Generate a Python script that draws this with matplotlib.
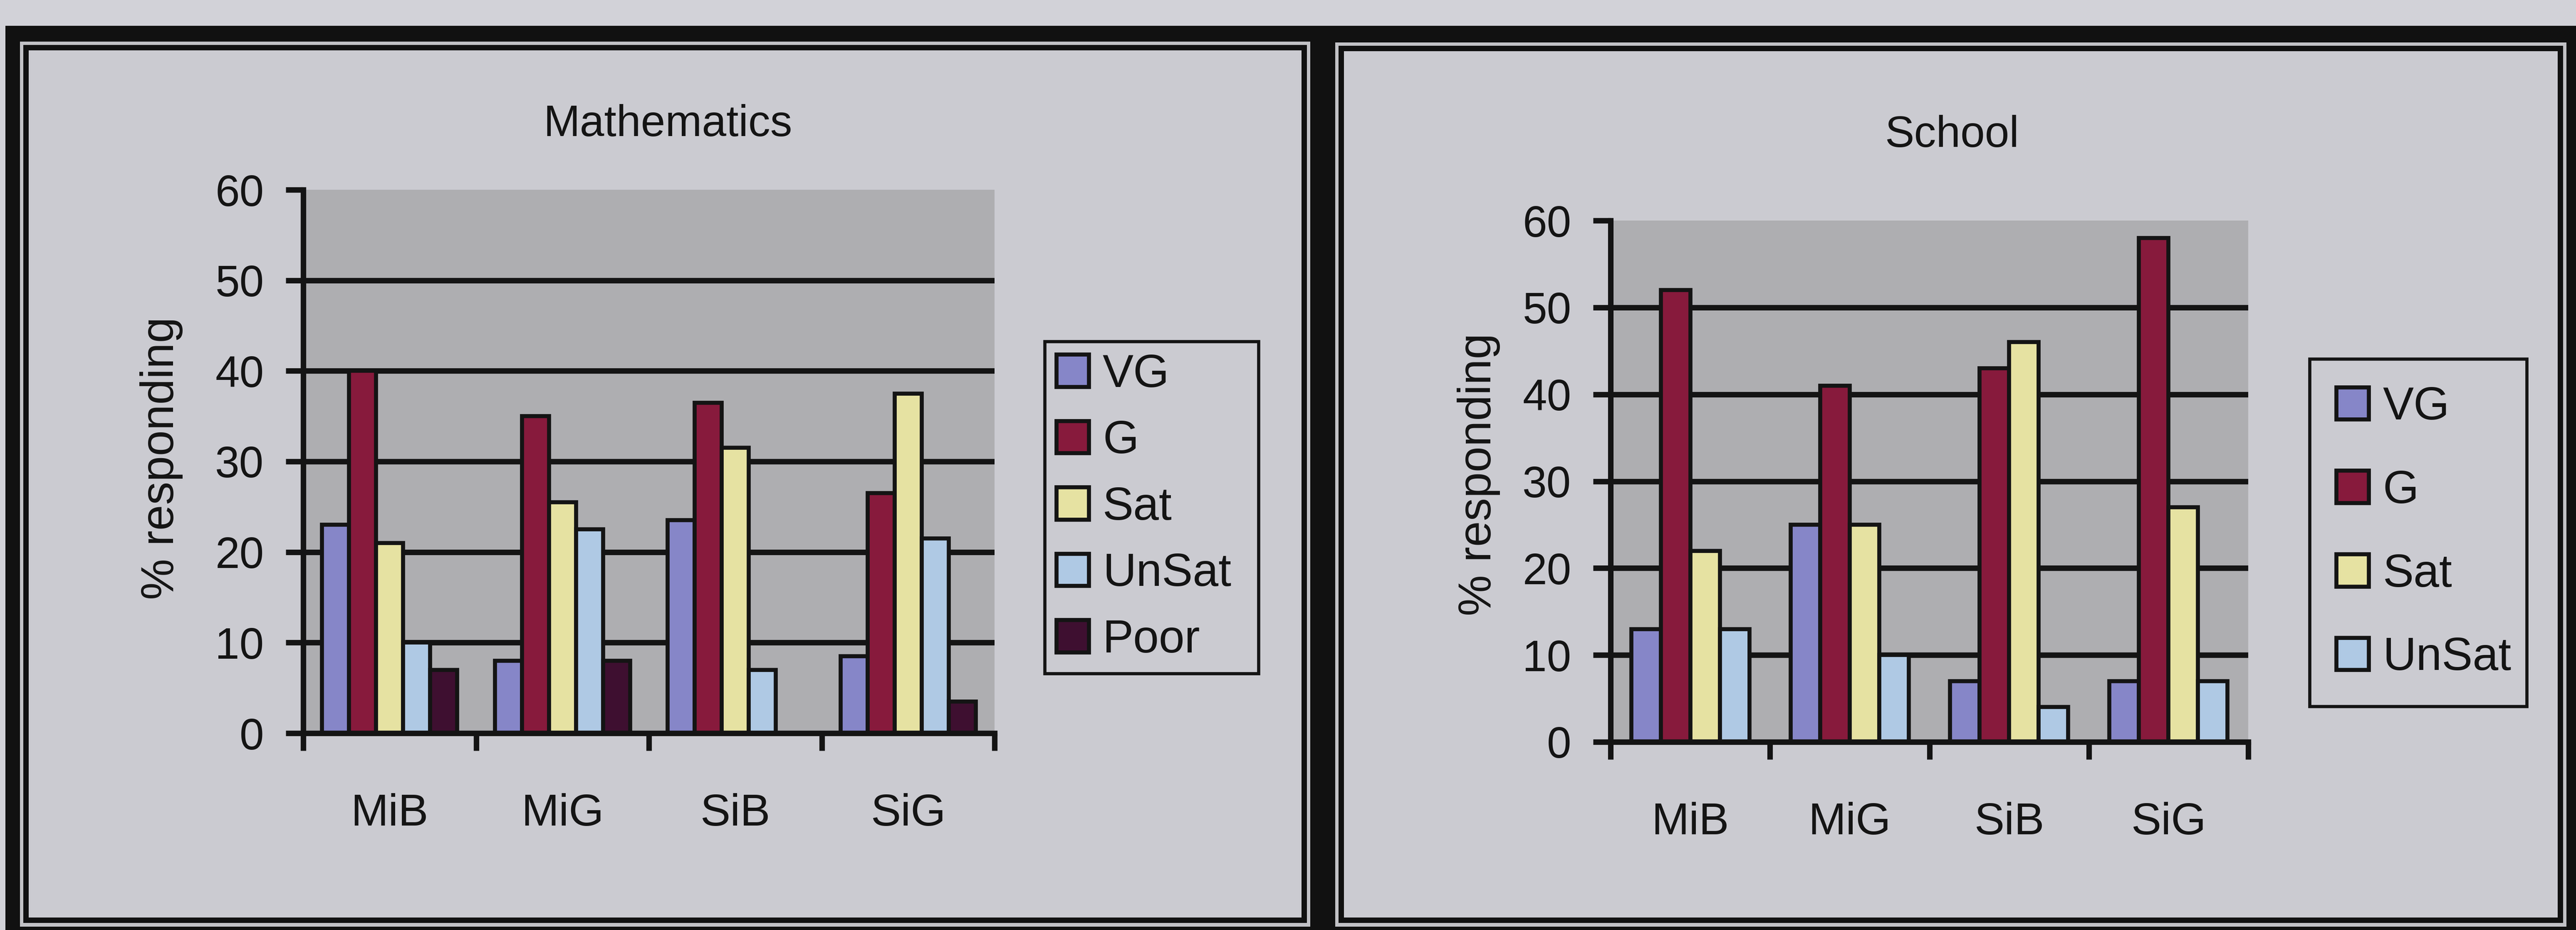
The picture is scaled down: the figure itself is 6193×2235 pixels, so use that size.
import numpy as np
import matplotlib
matplotlib.use("Agg")
import matplotlib.pyplot as plt
from matplotlib.patches import Rectangle

# ── Data ──────────────────────────────────────────────────────────────────────
groups = ["MiB", "MiG", "SiB", "SiG"]
y_ticks = [0, 10, 20, 30, 40, 50, 60]

math_series = ["VG", "G", "Sat", "UnSat", "Poor"]
math_vg    = [23, 8, 23.5, 8.5]
math_g     = [40, 35, 36.5, 26.5]
math_sat   = [21, 25.5, 31.5, 37.5]
math_unsat = [10, 22.5, 7, 21.5]
math_poor  = [7, 8, 0, 3.5]

school_series = ["VG", "G", "Sat", "UnSat"]
school_vg    = [13, 25, 7, 7]
school_g     = [52, 41, 43, 58]
school_sat   = [22, 25, 46, 27]
school_unsat = [13, 10, 4, 7]

# ── Style ─────────────────────────────────────────────────────────────────────
COLORS = {"VG": "#8686c8", "G": "#871a3c", "Sat": "#e6e2a2",
          "UnSat": "#afc9e4", "Poor": "#3e0f30"}
PAGE_BG  = "#d2d2d8"
PANEL_BG = "#cbcbd1"
PLOT_BG  = "#aeaeb1"
INK      = "#141414"
LW_AXIS  = 9.5
LW_BAR   = 7

W, H = 6193, 2235          # output size in pixels (dpi 100)
plt.rcParams["font.family"] = ["Liberation Sans", "DejaVu Sans"]


def box(x0, y0, x1, y1):
    """pixel box (top-left origin) -> figure fraction rect"""
    return [x0 / W, 1 - y1 / H, (x1 - x0) / W, (y1 - y0) / H]


fig = plt.figure(figsize=(W / 100, H / 100), dpi=100, facecolor=PAGE_BG)

# ── Frames: thick outer border, divider, thin inner lines ─────────────────────
bg = fig.add_axes([0, 0, 1, 1])
bg.set_xlim(0, W)
bg.set_ylim(H, 0)
bg.axis("off")


def rect(x0, y0, x1, y1, color):
    bg.add_patch(Rectangle((x0, y0), x1 - x0, y1 - y0, color=color, lw=0))


rect(13, 62, W, H, "#111111")
for (x0, y0, x1, y1) in [(48, 100, 3150, 2227), (3210, 102, 6170, 2227)]:
    rect(x0, y0, x1, y1, "#c2c2c6")
    rect(x0 + 8, y0 + 8, x1 - 8, y1 - 9, "#111111")
    rect(x0 + 21, y0 + 21, x1 - 21, y1 - 22, PANEL_BG)


def draw_chart(ax, series, values, title, title_xy, ylabel_xy, legend_box,
               labelspacing, borderpad):
    n = len(series)
    bw = 1.0 / (n + 1.4)
    x = np.arange(len(groups))
    handles = []
    for i, (name, vals) in enumerate(zip(series, values)):
        b = ax.bar(x + (i - (n - 1) / 2) * bw, vals, bw, color=COLORS[name],
                   edgecolor=INK, lw=LW_BAR, zorder=3, label=name)
        handles.append(b)

    ax.set_facecolor(PLOT_BG)
    ax.set_xlim(-0.5, len(groups) - 0.5)
    ax.set_ylim(y_ticks[0], y_ticks[-1])
    for y in y_ticks[1:-1]:
        ax.axhline(y, color=INK, lw=LW_AXIS, zorder=1)

    for s in ("top", "right"):
        ax.spines[s].set_visible(False)
    for s in ("left", "bottom"):
        ax.spines[s].set_linewidth(LW_AXIS)
        ax.spines[s].set_color(INK)
        ax.spines[s].set_zorder(4)

    ax.set_yticks(y_ticks)
    ax.tick_params(axis="y", length=30, width=LW_AXIS, pad=38,
                   labelsize=76, colors=INK)
    ax.set_xticks(x)
    ax.set_xticklabels(groups)
    ax.set_xticks(np.arange(len(groups) + 1) - 0.5, minor=True)
    ax.tick_params(axis="x", which="major", length=0, pad=104,
                   labelsize=78, colors=INK)
    ax.tick_params(axis="x", which="minor", length=30, width=LW_AXIS,
                   color=INK)

    fig.text(title_xy[0] / W, 1 - title_xy[1] / H, title, ha="center",
             va="center", fontsize=76, color=INK)
    fig.text(ylabel_xy[0] / W, 1 - ylabel_xy[1] / H, "% responding",
             rotation=90, ha="center", va="center", fontsize=80, color=INK)

    x0, y0, x1, y1 = legend_box
    leg = ax.legend(handles=handles, loc="upper left", mode="expand",
                    bbox_to_anchor=(x0 / W, 1 - y1 / H, (x1 - x0) / W,
                                    (y1 - y0) / H),
                    bbox_transform=fig.transFigure, borderaxespad=0,
                    fontsize=80, handlelength=0.7, handleheight=0.7,
                    handletextpad=0.3, labelspacing=labelspacing,
                    borderpad=borderpad, fancybox=False, framealpha=1,
                    facecolor=PANEL_BG, edgecolor=INK)
    leg.get_frame().set_linewidth(5.5)
    for t in leg.get_texts():
        t.set_color(INK)


ax_math = fig.add_axes(box(729, 456, 2391, 1762))
draw_chart(ax_math, math_series,
           [math_vg, math_g, math_sat, math_unsat, math_poor],
           "Mathematics", (1606, 299), (388, 1101),
           (2512, 821, 3026, 1737), 0.5, 0.25)

ax_school = fig.add_axes(box(3872, 530, 5405, 1783))
draw_chart(ax_school, school_series,
           [school_vg, school_g, school_sat, school_unsat],
           "School", (4693, 325), (3555, 1140),
           (5553, 863, 6075, 1796), 0.87, 0.58)

fig.savefig("out.png", dpi=100, facecolor=PAGE_BG)
